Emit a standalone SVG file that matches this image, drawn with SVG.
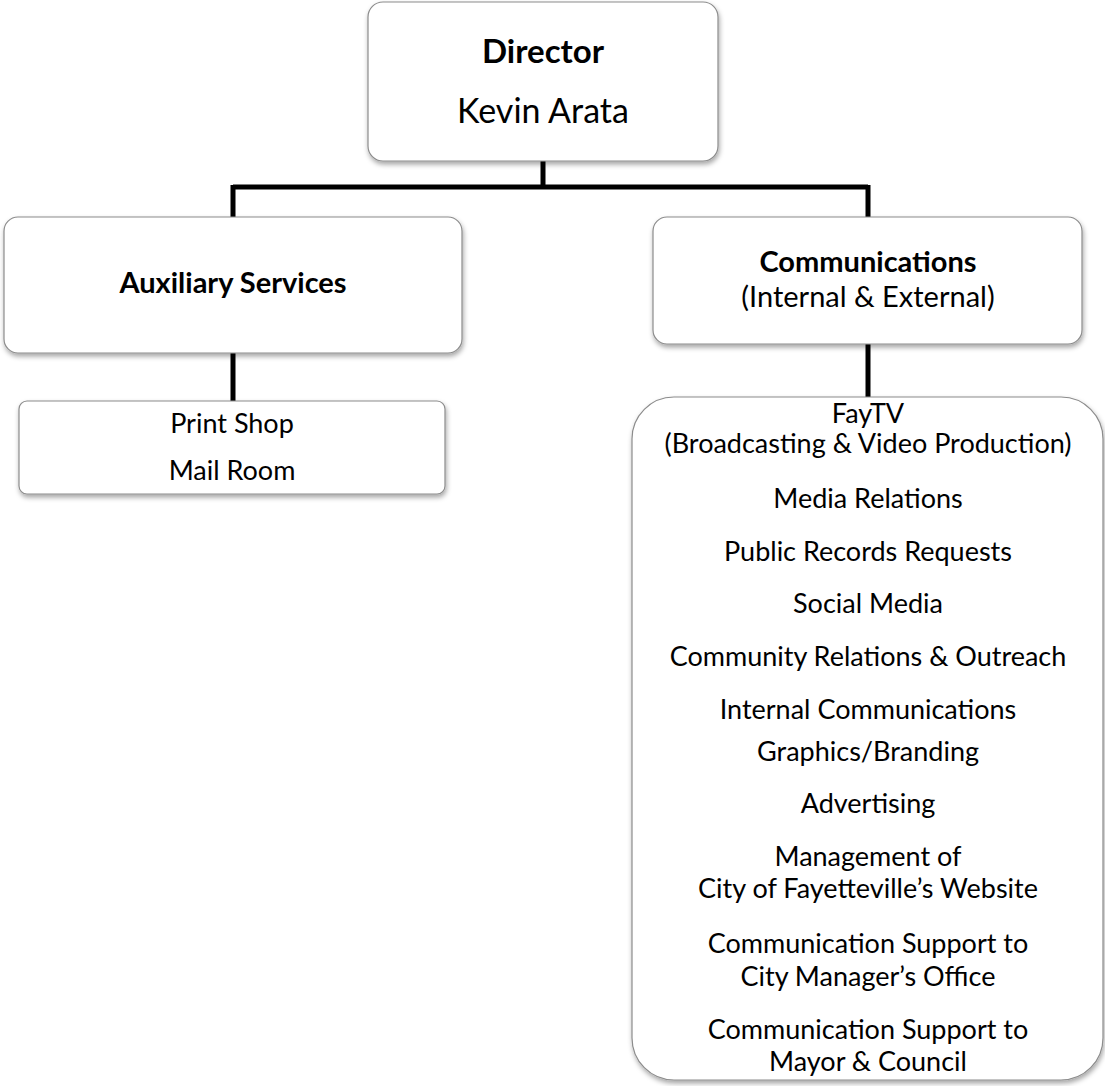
<svg xmlns="http://www.w3.org/2000/svg" width="1105" height="1086" viewBox="0 0 1105 1086">
<defs>
<filter id="sh" x="-5%" y="-5%" width="110%" height="115%">
<feDropShadow dx="1" dy="3" stdDeviation="2.5" flood-color="#000" flood-opacity="0.35"/>
</filter>
<style>
.box{fill:#fff;stroke:#8c8c8c;stroke-width:1.2;filter:url(#sh)}
.t{font-family:Lato,"Liberation Sans",sans-serif;fill:#000;text-anchor:middle}
.b{font-weight:bold}
.conn{fill:none;stroke:#000;stroke-width:5}
</style>
</defs>
<rect width="1105" height="1086" fill="#fff"/>
<g id="connectors">
<path class="conn" d="M543,160 V187 M233,187 H868 M233,185 V218 M868,185 V218"/>
<path class="conn" d="M233,352 V402"/>
<path class="conn" d="M868,343 V398"/>
</g>
<g id="director">
<rect class="box" x="368" y="2" width="350" height="159" rx="15"/>
<text class="t b" x="543" y="63" font-size="33">Director</text>
<text class="t" x="543" y="123" font-size="34">Kevin Arata</text>
</g>
<g id="auxiliary">
<rect class="box" x="4" y="217" width="458" height="136" rx="14"/>
<text class="t b" x="233" y="293" font-size="29">Auxiliary Services</text>
</g>
<g id="communications">
<rect class="box" x="653" y="217" width="429" height="127" rx="14"/>
<text class="t b" x="868" y="272" font-size="29">Communications</text>
<text class="t" x="868" y="307" font-size="29">(Internal &amp; External)</text>
</g>
<g id="aux-units">
<rect class="box" x="19" y="401" width="426" height="93" rx="8"/>
<text class="t" x="232" y="433" font-size="27">Print Shop</text>
<text class="t" x="232" y="480" font-size="27">Mail Room</text>
</g>
<g id="comm-units">
<rect class="box" x="632" y="397" width="471" height="683" rx="42"/>
<g class="t" font-size="27">
<text x="868" y="423">FayTV</text>
<text x="868" y="453">(Broadcasting &amp; Video Production)</text>
<text x="868" y="508">Media Relations</text>
<text x="868" y="561">Public Records Requests</text>
<text x="868" y="613">Social Media</text>
<text x="868" y="666">Community Relations &amp; Outreach</text>
<text x="868" y="719">Internal Communications</text>
<text x="868" y="761">Graphics/Branding</text>
<text x="868" y="813">Advertising</text>
<text x="868" y="866">Management of</text>
<text x="868" y="898">City of Fayetteville’s Website</text>
<text x="868" y="953">Communication Support to</text>
<text x="868" y="986">City Manager’s Office</text>
<text x="868" y="1039">Communication Support to</text>
<text x="868" y="1071">Mayor &amp; Council</text>
</g>
</g>
</svg>
